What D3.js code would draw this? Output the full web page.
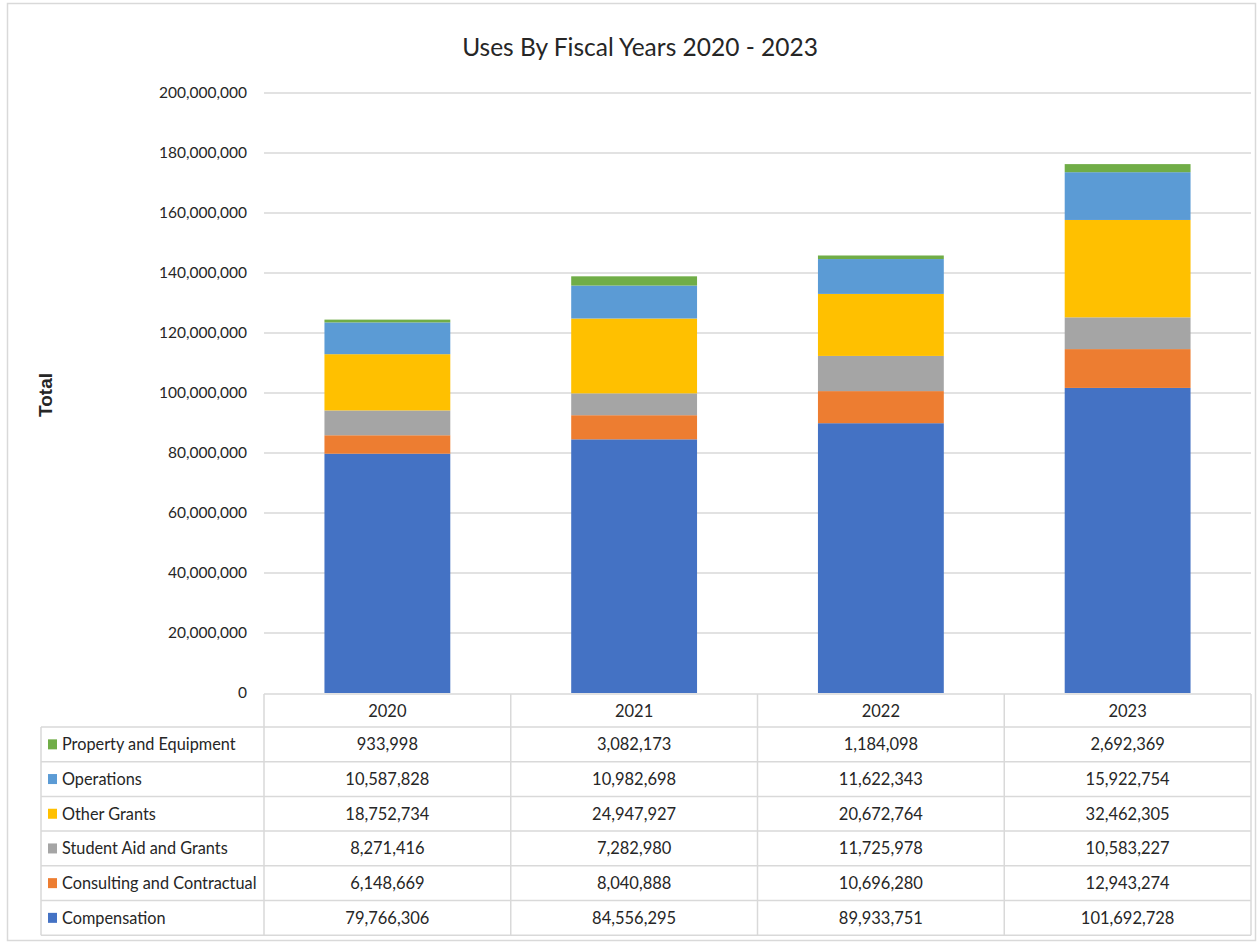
<!DOCTYPE html>
<html><head><meta charset="utf-8">
<script src="https://cdn.jsdelivr.net/npm/d3@7"></script>
<style>body{margin:0;background:#fff;} text{font-family:Lato,"Open Sans",sans-serif;fill:#262626;}</style>
</head><body>
<svg id="c" width="1258" height="945"></svg>
<script>
const years = ["2020","2021","2022","2023"];
const seriesNames = ["Compensation","Consulting and Contractual","Student Aid and Grants","Other Grants","Operations","Property and Equipment"];
const compensation = [79766306, 84556295, 89933751, 101692728];
const consulting = [6148669, 8040888, 10696280, 12943274];
const studentAid = [8271416, 7282980, 11725978, 10583227];
const otherGrants = [18752734, 24947927, 20672764, 32462305];
const operations = [10587828, 10982698, 11622343, 15922754];
const property = [933998, 3082173, 1184098, 2692369];
const yTicks = [0,20000000,40000000,60000000,80000000,100000000,120000000,140000000,160000000,180000000,200000000];
const colors = ["#4472C4","#ED7D31","#A5A5A5","#FFC000","#5B9BD5","#70AD47"];

const valuesBySeries = [compensation, consulting, studentAid, otherGrants, operations, property];
const rows = years.map((y,i)=>{const r={year:y}; seriesNames.forEach((s,k)=>r[s]=valuesBySeries[k][i]); return r;});

const svg = d3.select("#c");
svg.append("rect").attr("x",7.5).attr("y",3.5).attr("width",1248).attr("height",937).attr("fill","#fff").attr("stroke","#d9d9d9").attr("stroke-width",1.5);

const plotL=264, plotR=1251, plotT=93, plotB=693;
const x = d3.scaleBand().domain(years).range([plotL,plotR]).paddingInner(0).paddingOuter(0);
const y = d3.scaleLinear().domain([0,200000000]).range([plotB,plotT]);

svg.append("g").selectAll("line").data(yTicks.slice(1)).join("line")
  .attr("x1",plotL).attr("x2",plotR).attr("y1",d=>y(d)).attr("y2",d=>y(d))
  .attr("stroke","#d9d9d9").attr("stroke-width",1.5);

const fmt = d3.format(",");
const yAxis = d3.axisLeft(y).tickValues(yTicks).tickSize(0).tickPadding(17).tickFormat(d=>fmt(d));
const ga = svg.append("g").attr("transform",`translate(${plotL},0)`).call(yAxis);
ga.select(".domain").remove();
ga.selectAll("text").attr("font-size",15.5).attr("fill","#262626").style("font-family","Lato,sans-serif");

const stack = d3.stack().keys(seriesNames)(rows);
const bw = x.bandwidth()*0.51;
svg.append("g").selectAll("g").data(stack).join("g").attr("fill",(d,i)=>colors[i])
  .selectAll("rect").data(d=>d).join("rect")
  .attr("x",d=>x(d.data.year)+(x.bandwidth()-bw)/2)
  .attr("width",bw)
  .attr("y",d=>y(d[1]))
  .attr("height",d=>y(d[0])-y(d[1]));

svg.append("text").attr("x",640).attr("y",56).attr("text-anchor","middle").attr("font-size",24.5).text("Uses By Fiscal Years 2020 - 2023");
svg.append("text").attr("transform","translate(52,395) rotate(-90)").attr("text-anchor","middle")
  .attr("font-size",19).attr("font-weight","bold").style("font-family","'Liberation Sans',Arial,sans-serif").text("Total");

const tableL=41, headerT=694, headerB=727, rowH=34.7;
const tableRows = seriesNames.map((s,k)=>({name:s,color:colors[k],vals:valuesBySeries[k]})).reverse();
const tb = tableRows.length;
const tg = svg.append("g");
const lineC="#d9d9d9";
tg.append("line").attr("x1",plotL).attr("x2",plotR).attr("y1",headerT).attr("y2",headerT).attr("stroke",lineC).attr("stroke-width",1.5);
for(let i=0;i<=tb;i++){
  const yy = headerB + i*rowH;
  tg.append("line").attr("x1",tableL).attr("x2",plotR).attr("y1",yy).attr("y2",yy).attr("stroke",lineC).attr("stroke-width",1.5);
}
const tableBottom = headerB + tb*rowH;
tg.append("line").attr("x1",tableL).attr("x2",tableL).attr("y1",headerB).attr("y2",tableBottom).attr("stroke",lineC).attr("stroke-width",1.5);
years.forEach(yr=>{
  tg.append("line").attr("x1",x(yr)).attr("x2",x(yr)).attr("y1",headerT).attr("y2",tableBottom).attr("stroke",lineC).attr("stroke-width",1.5);
});
tg.append("line").attr("x1",plotR).attr("x2",plotR).attr("y1",headerT).attr("y2",tableBottom).attr("stroke",lineC).attr("stroke-width",1.5);
tg.selectAll("text.h").data(years).join("text").attr("class","h")
  .attr("x",d=>x(d)+x.bandwidth()/2).attr("y",(headerT+headerB)/2+6).attr("text-anchor","middle").attr("font-size",16.5).text(d=>d);
tableRows.forEach((r,i)=>{
  const cy = headerB + i*rowH + rowH/2;
  tg.append("rect").attr("x",48).attr("y",cy-5).attr("width",9).attr("height",10).attr("fill",r.color);
  tg.append("text").attr("x",62).attr("y",cy+6).attr("font-size",16.3).text(r.name);
  r.vals.forEach((v,j)=>{
    tg.append("text").attr("x",x(years[j])+x.bandwidth()/2).attr("y",cy+6).attr("text-anchor","middle").attr("font-size",16.5).text(fmt(v));
  });
});
</script>
</body></html>
